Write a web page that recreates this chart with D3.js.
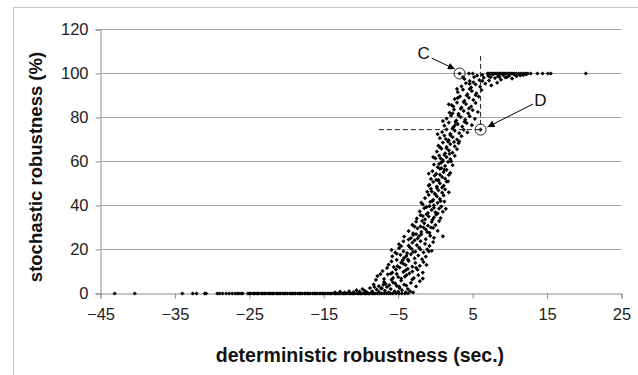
<!DOCTYPE html>
<html>
<head>
<meta charset="utf-8">
<script src="https://cdn.jsdelivr.net/npm/d3@7/dist/d3.min.js"></script>
<style>
html,body{margin:0;padding:0;background:#fff;}
svg{display:block;}
text{font-family:"Liberation Sans",Arial,sans-serif;}
</style>
</head>
<body>
<svg id="chart" width="638" height="375"></svg>
<script>
// ---- data ----
const xTicks = [-45, -35, -25, -15, -5, 5, 15, 25];
const yTicks = [0, 20, 40, 60, 80, 100, 120];

// points lying at 0 %
const zeroX = [-43.1,-40.4,-34.0,-32.6,-32.1,-31.0,-30.8,-29.3,-29.0,-28.6,-28.1,-27.7,-27.3,-26.9,-26.6,-26.4,-26.1,-25.9,
-25.2,-25.0,-24.8,-24.5,-24.3,-24.1,-23.9,-23.7,-23.4,-23.2,-23.0,-22.8,-22.5,-22.3,-22.1,-21.9,-21.7,-21.4,-21.2,-21.0,-20.8,-20.5,
-20.3,-20.1,-19.9,-19.6,-19.4,-19.2,-19.0,-18.8,-18.5,-18.3,-18.1,-17.9,-17.6,-17.4,-17.2,-17.0,-16.8,-16.5,-16.3,-16.1,-15.9,-15.6,
-15.4,-15.2,-15.0,-14.8,-14.5,-14.3,-14.1,-13.9,-13.6,-13.4,-13.2,-13.0,-12.8,-12.5,-12.3,-12.1,-11.9,-11.6,-11.4,-11.2,-11.0,-10.8,
-10.5,-10.3,-10.1,-9.9,-9.6,-9.4,-9.2,-9.0,-8.8,-8.5,-8.3,-8.1,-7.8,-7.5,-7.2,-6.9,-6.6,-6.3,-6.0,-5.7,-5.3,-4.9,-4.5,-4.1,-3.7];

// points lying at 100 %
const fullX = [4.5,5.0,7.0,7.2,7.4,7.6,7.8,8.0,8.2,8.4,8.6,8.8,9.0,9.2,9.4,9.6,9.8,10.0,10.2,10.4,10.6,10.9,11.2,11.5,
11.8,12.1,12.4,12.8,13.7,14.4,15.1,15.5,20.2];

// rising part of the cloud: [deterministic, stochastic]
const cloud = [
[-13.5,0.5],[-12.8,0.8],[-12.2,0.4],[-11.6,1.0],[-11.0,0.6],[-10.6,1.5],[-10.2,0.8],[-9.8,2.0],[-9.5,1.2],[-9.2,0.5],
[-8.8,2.5],[-8.5,1.0],[-8.2,3.0],[-7.9,1.8],[-7.6,0.7],[-7.3,2.2],[-7.0,4.0],[-6.8,1.3],[-6.5,3.0],[-6.3,0.5],[-6.0,2.0],
[-5.7,5.0],[-5.5,1.0],[-5.2,3.5],[-5.0,0.8],[-4.8,2.5],[-4.5,1.5],[-4.2,4.0],[-4.0,0.5],[-3.7,2.0],[-3.4,1.0],[-3.0,0.5],
[-8.3,4.1],[-7.6,3.3],[-6.9,5.2],[-6.2,3.8],[-5.4,4.6],[-4.9,3.1],[-4.6,5.9],[-3.9,3.6],[-3.3,4.8],[-2.6,3.2],[-5.9,6.2],[-7.2,2.4],
[-7.8,7.9],[-6.9,6.6],[-6.4,8.7],[-5.7,7.1],[-5.2,8.9],[-4.6,6.8],[-4.1,7.7],[-3.5,9.1],[-2.9,7.0],[-2.3,8.3],[-1.7,6.8],[-5.0,7.5],
[-7.1,10.2],[-6.5,11.6],[-5.8,9.5],[-5.3,10.9],[-4.8,11.8],[-4.3,9.8],[-3.7,11.2],[-3.1,10.0],[-2.6,11.7],[-1.7,9.5],[-4.0,10.6],[-5.6,12.0],
[-6.3,13.1],[-5.9,14.6],[-5.1,12.4],[-4.6,14.0],[-4.0,12.9],[-3.6,14.8],[-3.1,12.2],[-2.7,13.9],[-2.1,12.6],[-1.6,14.3],[-4.3,13.5],
[-5.8,16.9],[-5.2,15.3],[-4.7,17.6],[-4.2,16.2],[-3.7,15.4],[-3.3,17.8],[-2.8,16.0],[-2.3,17.3],[-1.8,15.6],[-1.3,16.8],[-3.9,17.1],
[-5.9,19.8],[-5.4,18.6],[-4.9,20.6],[-4.3,19.2],[-3.8,18.4],[-3.2,20.3],[-2.7,19.0],[-2.2,20.9],[-1.6,18.7],[-1.1,20.1],[-0.5,19.4],[-3.5,21.2],
[-4.9,22.4],[-4.3,23.7],[-3.6,21.8],[-3.1,23.1],[-2.5,22.0],[-2.0,23.8],[-1.4,22.6],[-0.8,21.6],[-2.8,24.2],[-0.3,23.4],
[-4.2,25.9],[-3.6,24.5],[-3.0,26.6],[-2.4,25.0],[-1.9,26.9],[-1.3,24.7],[-0.7,26.2],[-0.2,25.3],[1.0,26.0],[-2.6,27.0],
[-3.6,28.4],[-3.0,27.3],[-2.4,29.6],[-1.9,28.0],[-1.3,29.1],[-0.8,27.6],[-0.3,29.8],[0.3,28.5],[-1.6,30.0],
[-3.1,31.2],[-2.6,32.7],[-2.0,30.5],[-1.5,31.9],[-1.0,30.8],[-0.5,32.5],[0.0,31.1],[0.5,32.9],[-1.8,33.0],
[-2.5,34.1],[-2.0,35.6],[-1.4,33.7],[-0.9,35.0],[-0.4,33.5],[0.1,35.9],[0.7,34.3],[-1.2,36.0],
[-2.1,37.3],[-1.5,38.8],[-1.0,36.6],[-0.5,38.0],[0.0,36.9],[0.5,38.6],[1.0,37.2],[-0.2,39.0],
[-1.7,40.5],[-1.2,39.3],[-0.7,41.6],[-0.2,40.1],[0.3,41.2],[0.8,39.6],[1.2,41.8],[-0.4,42.0],
[-1.4,43.4],[-0.9,44.8],[-0.3,42.6],[0.2,44.1],[0.6,43.0],[1.1,44.6],[0.0,45.0],
[-1.1,46.2],[-0.6,47.6],[-0.1,45.5],[0.4,46.9],[0.9,45.8],[1.3,47.3],[1.8,46.0],[0.2,48.0],
[-0.8,49.4],[-0.3,50.7],[0.2,48.6],[0.6,50.1],[1.1,49.0],[1.5,50.9],[0.4,51.2],
[-0.6,52.1],[-0.1,53.6],[0.4,51.7],[0.9,53.0],[1.3,52.2],[1.8,53.9],[0.6,54.0],
[-0.4,55.6],[0.1,54.4],[0.6,56.7],[1.1,55.2],[1.5,56.2],[2.0,54.8],[0.8,57.0],
[-0.2,58.6],[0.3,57.4],[0.8,59.5],[1.3,58.0],[1.7,59.8],[2.3,58.3],[1.0,60.0],
[0.0,61.4],[0.5,62.7],[1.0,60.6],[1.5,62.0],[2.0,61.1],[2.6,62.6],[1.2,63.0],
[0.2,64.5],[0.8,65.8],[1.3,63.7],[1.8,65.1],[2.3,64.0],[2.9,65.6],[1.5,66.0],
[0.4,67.2],[1.0,68.6],[1.5,66.6],[2.0,67.9],[2.6,66.9],[3.1,68.3],[1.7,69.0],
[0.6,70.6],[1.2,71.8],[1.8,69.7],[2.3,71.1],[2.9,70.0],[3.5,71.5],[2.0,72.0],
[0.9,73.4],[1.5,74.6],[2.0,72.6],[2.6,74.0],[3.2,72.9],[3.8,74.4],[4.3,73.2],[2.3,75.0],
[1.2,76.3],[1.8,77.7],[2.4,75.6],[3.0,77.0],[3.6,75.9],[4.2,77.4],[4.9,76.5],[2.7,78.0],
[1.5,79.5],[2.1,80.8],[2.8,78.6],[3.4,80.2],[4.0,79.0],[4.6,80.6],[5.3,79.4],[3.1,81.0],
[1.9,82.2],[2.5,83.6],[3.1,81.7],[3.8,83.0],[4.4,81.9],[5.0,83.4],[5.7,82.5],[3.4,84.0],
[2.2,85.6],[2.9,86.8],[3.5,84.5],[4.1,86.1],[4.8,85.0],[5.4,86.6],[3.8,87.0],
[2.6,88.4],[3.3,89.6],[3.9,87.6],[4.5,89.0],[5.1,88.0],[5.8,89.5],[4.2,90.0],
[3.0,91.5],[3.7,92.7],[4.3,90.6],[4.9,92.0],[5.5,91.0],[6.2,92.5],[4.6,93.0],
[3.5,94.2],[4.1,95.6],[4.8,93.6],[5.4,95.0],[6.0,94.0],[6.7,95.4],[7.5,94.6],[8.3,95.8],[5.1,96.0],
[3.9,97.5],[4.6,96.6],[5.2,98.4],[5.9,97.0],[6.5,98.1],[7.2,96.8],[8.0,97.9],[8.8,97.2],[9.6,98.3],[10.3,97.7],
[5.6,99.0],[6.3,99.4],[7.1,98.9],[7.7,99.5],[8.4,98.7],[9.1,99.3],[9.9,98.9],[10.6,99.5],[11.4,99.1],[12.2,99.6],
[7.4,98.3],[8.6,98.5],[9.4,98.2],[10.9,98.8],[11.8,99.3],
[-3.9,8.3],[-2.1,5.6],[-6.0,9.0],[-4.4,15.1],[-2.4,10.8],[-3.0,18.9],[-1.2,13.0],[-4.6,21.5],[-2.2,26.1],[-0.9,19.2],
[-3.3,25.2],[-1.1,27.9],[-2.8,30.4],[-0.6,30.0],[-1.7,35.2],[0.3,36.4],[-0.8,39.7],[-1.9,41.3],[0.7,42.0],[-0.5,46.4],
[0.9,48.2],[0.1,51.6],[1.7,51.0],[-0.9,54.5],[1.2,56.3],[0.5,58.9],[2.1,60.1],[-0.3,62.0],[1.9,63.5],[0.6,66.5],
[2.5,68.9],[1.4,70.2],[3.2,69.1],[0.3,72.4],[2.6,76.4],[1.0,78.4],[3.9,78.1],[2.3,81.9],[4.5,84.1],[1.8,86.0],
[3.0,88.9],[5.4,90.2],[2.9,93.0],[6.3,96.6],[3.7,98.4],[-6.7,4.4],[-8.0,6.2],[-7.4,8.8],[-3.1,6.4],[-2.0,20.0],
[-5.2,18.1],[-0.2,34.6],[1.4,38.5],[-0.9,49.0],[0.7,61.4],[2.4,85.0],[4.6,95.3]
];

// highlighted scenarios
const marked = [
  {name: "C", x: 3.25, y: 100, lx: -1.6, ly: 109.3, ax0: -0.5, ay0: 107, ax1: 2.6, ay1: 102},
  {name: "D", x: 6.07, y: 74.5, lx: 14.1, ly: 87.9, ax0: 13.1, ay0: 86.1, ax1: 7.0, ay1: 75.7}
];
const guideLeftX = -7.6;   // start of horizontal dashed guide
const guideTopY = 108;     // top of vertical dashed guide

// ---- drawing ----
const svg = d3.select("#chart");
const x = d3.scaleLinear().domain([-45, 25]).range([100.5, 621.5]);
const y = d3.scaleLinear().domain([0, 120]).range([293.5, 29.5]);

// outer frame
svg.append("rect").attr("x", 13.5).attr("y", 7.5).attr("width", 640).attr("height", 380)
  .attr("fill", "none").attr("stroke", "#c8c8c8").attr("stroke-width", 1);

// gridlines
svg.append("g").selectAll("line").data(yTicks.filter(d => d > 0)).join("line")
  .attr("x1", x(-45)).attr("x2", x(25)).attr("y1", d => y(d)).attr("y2", d => y(d))
  .attr("stroke", "#a6a6a6").attr("stroke-width", 1);

// y axis
const yAxis = svg.append("g").attr("transform", `translate(${x(-45)},0)`)
  .call(d3.axisLeft(y).tickValues(yTicks).tickSize(5).tickPadding(7));
// x axis
const xAxis = svg.append("g").attr("transform", `translate(0,${y(0)})`)
  .call(d3.axisBottom(x).tickValues(xTicks).tickSize(5).tickPadding(10).tickFormat(d3.format("d")));
[yAxis, xAxis].forEach(a => {
  a.select(".domain").attr("stroke", "#8c8c8c");
  a.selectAll(".tick line").attr("stroke", "#8c8c8c");
  a.selectAll(".tick text").attr("fill", "#222").style("font-size", "16.5px")
    .style("font-family", '"Liberation Sans", Arial, sans-serif');
});
xAxis.selectAll(".tick text").attr("dy", "0.71em");

// axis titles
svg.append("text").attr("x", 360).attr("y", 362).attr("text-anchor", "middle")
  .style("font-size", "19.5px").style("font-weight", "bold").attr("fill", "#111")
  .text("deterministic robustness (sec.)");
svg.append("text").attr("transform", "translate(42,167) rotate(-90)").attr("text-anchor", "middle")
  .style("font-size", "18.5px").style("font-weight", "bold").attr("fill", "#111")
  .text("stochastic robustness (%)");

// points
const pts = [].concat(
  zeroX.map(v => [v, 0]),
  fullX.map(v => [v, 100]),
  cloud,
  marked.map(m => [m.x, m.y])
);
const marker = d3.symbol().type(d3.symbolSquare).size(9);
svg.append("g").selectAll("path").data(pts).join("path")
  .attr("d", marker)
  .attr("transform", d => `translate(${x(d[0])},${y(d[1])}) rotate(45)`)
  .attr("fill", "#000");

// dashed guides through D
const D = marked[1];
svg.append("line").attr("x1", x(guideLeftX)).attr("x2", x(D.x)).attr("y1", y(D.y)).attr("y2", y(D.y))
  .attr("stroke", "#222").attr("stroke-width", 1).attr("stroke-dasharray", "5,3");
svg.append("line").attr("x1", x(D.x)).attr("x2", x(D.x)).attr("y1", y(guideTopY)).attr("y2", y(D.y))
  .attr("stroke", "#222").attr("stroke-width", 1).attr("stroke-dasharray", "5,3");

// arrowhead
svg.append("defs").append("marker").attr("id", "arr").attr("viewBox", "0 0 10 10")
  .attr("refX", 10).attr("refY", 5).attr("markerWidth", 7).attr("markerHeight", 7)
  .attr("markerUnits", "userSpaceOnUse").attr("orient", "auto")
  .append("path").attr("d", "M0,0 L10,5 L0,10 z").attr("fill", "#000");

const ann = svg.append("g");
ann.selectAll("circle").data(marked).join("circle")
  .attr("cx", d => x(d.x)).attr("cy", d => y(d.y)).attr("r", 5.5)
  .attr("fill", "none").attr("stroke", "#222").attr("stroke-width", 1);
ann.selectAll("line").data(marked).join("line")
  .attr("x1", d => x(d.ax0)).attr("y1", d => y(d.ay0))
  .attr("x2", d => x(d.ax1)).attr("y2", d => y(d.ay1))
  .attr("stroke", "#000").attr("stroke-width", 1).attr("marker-end", "url(#arr)");
ann.selectAll("text").data(marked).join("text")
  .attr("x", d => x(d.lx)).attr("y", d => y(d.ly)).attr("dy", "0.36em")
  .attr("text-anchor", "middle").style("font-size", "17px").attr("fill", "#111")
  .text(d => d.name);
</script>
</body>
</html>
